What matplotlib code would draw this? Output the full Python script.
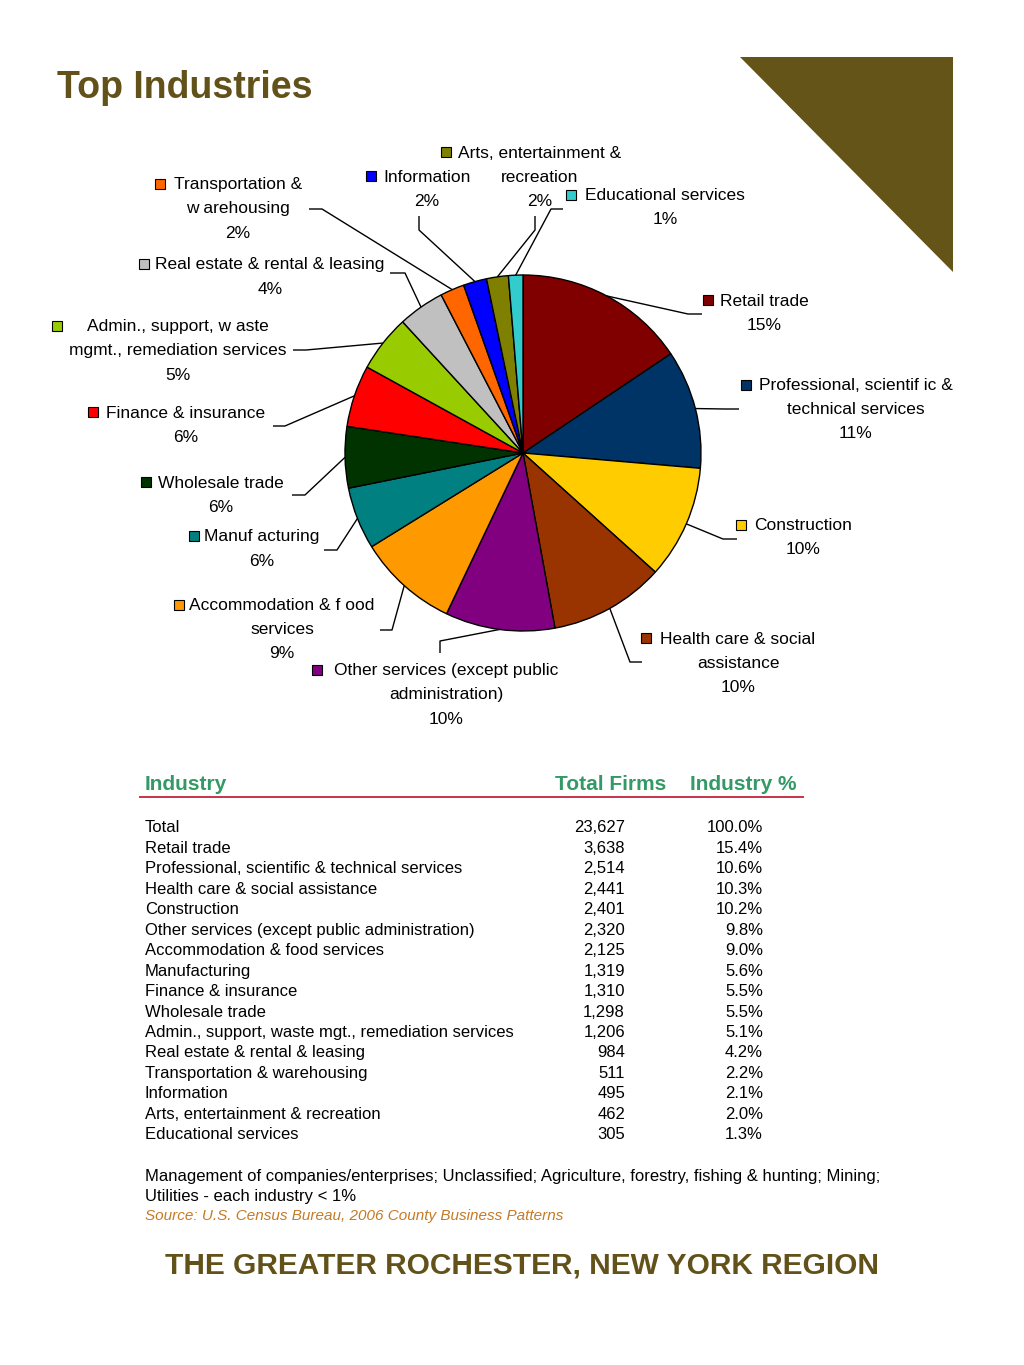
import matplotlib
matplotlib.use("Agg")
import matplotlib.pyplot as plt
from matplotlib.patches import Rectangle, Polygon
import numpy as np

plt.rcParams['font.family'] = ['Liberation Sans', 'DejaVu Sans']

W, H = 1024, 1365

# ---------------- data ----------------
pie_names = [
    ["Retail trade"],
    ["Professional, scientif ic &", "technical services"],
    ["Construction"],
    ["Health care & social", "assistance"],
    ["Other services (except public", "administration)"],
    ["Accommodation & f ood", "services"],
    ["Manuf acturing"],
    ["Wholesale trade"],
    ["Finance & insurance"],
    ["Admin., support, w aste", "mgmt., remediation services"],
    ["Real estate & rental & leasing"],
    ["Transportation &", "w arehousing"],
    ["Information"],
    ["Arts, entertainment &", "recreation"],
    ["Educational services"],
]
pie_firms = [3638, 2514, 2401, 2441, 2320, 2125, 1319, 1298, 1310, 1206, 984, 511, 495, 462, 305]
pie_pct = ["15%", "11%", "10%", "10%", "10%", "9%", "6%", "6%", "6%", "5%", "4%", "2%", "2%", "2%", "1%"]
pie_colors = ["#800000", "#003366", "#FFCC00", "#993300", "#800080", "#FF9900", "#008080",
              "#003300", "#FF0000", "#99CC00", "#C0C0C0", "#FF6600", "#0000FF", "#808000", "#33CCCC"]

table_industries = ["Total", "Retail trade", "Professional, scientific & technical services",
                    "Health care & social assistance", "Construction",
                    "Other services (except public administration)", "Accommodation & food services",
                    "Manufacturing", "Finance & insurance", "Wholesale trade",
                    "Admin., support, waste mgt., remediation services", "Real estate & rental & leasing",
                    "Transportation & warehousing", "Information", "Arts, entertainment & recreation",
                    "Educational services"]
table_firms = ["23,627", "3,638", "2,514", "2,441", "2,401", "2,320", "2,125", "1,319", "1,310",
               "1,298", "1,206", "984", "511", "495", "462", "305"]
table_pct = ["100.0%", "15.4%", "10.6%", "10.3%", "10.2%", "9.8%", "9.0%", "5.6%", "5.5%",
             "5.5%", "5.1%", "4.2%", "2.2%", "2.1%", "2.0%", "1.3%"]

# ---------------- layout ----------------
def Y(py):
    return H - py

fig = plt.figure(figsize=(W / 100, H / 100), dpi=100)
ax = fig.add_axes([0, 0, 1, 1])

CX, CY, R = 523, 453, 178
ax.pie(pie_firms, colors=pie_colors, startangle=90, counterclock=False,
       center=(CX, Y(CY)), radius=R,
       wedgeprops=dict(edgecolor="black", linewidth=1.0))
ax.set_xlim(0, W)
ax.set_ylim(0, H)
ax.set_aspect('equal')
ax.axis('off')

brown = "#62521A"
# title and corner triangle
ax.text(57, Y(88), "Top Industries", fontsize=27, fontweight="bold", color=brown,
        ha="left", va="center")
ax.add_patch(Polygon([(740, Y(57)), (953, Y(57)), (953, Y(272))], closed=True,
                     facecolor="#645418", edgecolor="none"))

# label layout: (text center x, first line y, marker x, elbow, end)
label_layout = [
    (764, 301, 708, (688, 314), (702, 314)),
    (856, 386, 746, (725, 409), (739, 409)),
    (803, 526, 741, (723, 539), (737, 539)),
    (738, 639, 646, (630, 662), (642, 662)),
    (446, 671, 317, (440, 641), (440, 653)),
    (282, 606, 179, (392, 630), (380, 630)),
    (262, 537, 194, (337, 550), (324, 550)),
    (221, 483, 146, (305, 495), (292, 495)),
    (186, 413, 93, (285, 426), (273, 426)),
    (178, 327, 57, (306, 350), (293, 350)),
    (270, 265, 144, (405, 273), (390, 273)),
    (238, 185, 160, (322, 209), (309, 209)),
    (427, 177, 371, (419, 230), (419, 216)),
    (540, 153, 446, (535, 230), (535, 216)),
    (665, 196, 571, (551, 209), (563, 209)),
]

total = float(sum(pie_firms))
cum = np.cumsum([0] + pie_firms[:-1])
LS = 24
for i, (cx, y0, mx, elbow, end) in enumerate(label_layout):
    frac = (cum[i] + pie_firms[i] / 2.0) / total
    ang = np.deg2rad(90 - 360 * frac)
    ex, ey = CX + R * np.cos(ang), Y(CY) + R * np.sin(ang)
    ax.plot([ex, elbow[0], end[0]], [ey, Y(elbow[1]), Y(end[1])], color="black",
            lw=1.0, solid_capstyle="butt", zorder=3)
    lines = pie_names[i] + [pie_pct[i]]
    for j, t in enumerate(lines):
        ax.text(cx, Y(y0 + j * LS), t, fontsize=12.5, ha="center", va="center", color="black")
    ax.add_patch(Rectangle((mx - 5, Y(y0 - 1) - 5), 10, 10, facecolor=pie_colors[i],
                           edgecolor="black", linewidth=0.8, zorder=4))

# ---------------- table ----------------
green = "#339966"
ax.text(145, Y(785), "Industry", fontsize=15, fontweight="bold", color=green, ha="left", va="center")
ax.text(666, Y(785), "Total Firms", fontsize=15, fontweight="bold", color=green, ha="right", va="center")
ax.text(797, Y(785), "Industry %", fontsize=15, fontweight="bold", color=green, ha="right", va="center")
ax.plot([140, 803], [Y(796.5), Y(796.5)], color="#C8324B", lw=1.4)

row0, dy = 828, 20.45
for k in range(len(table_industries)):
    yy = Y(row0 + k * dy)
    ax.text(145, yy, table_industries[k], fontsize=12, ha="left", va="center", color="black")
    ax.text(625, yy, table_firms[k], fontsize=12, ha="right", va="center", color="black")
    ax.text(763, yy, table_pct[k], fontsize=12, ha="right", va="center", color="black")

ax.text(145, Y(1176), "Management of companies/enterprises; Unclassified; Agriculture, forestry, fishing & hunting; Mining;",
        fontsize=12, ha="left", va="center", color="black")
ax.text(145, Y(1197), "Utilities - each industry < 1%", fontsize=12, ha="left", va="center", color="black")
ax.text(145, Y(1216), "Source: U.S. Census Bureau, 2006 County Business Patterns", fontsize=11,
        style="italic", ha="left", va="center", color="#C47A26")

ax.text(522, Y(1265), "THE GREATER ROCHESTER, NEW YORK REGION", fontsize=21.5, fontweight="bold",
        color=brown, ha="center", va="center")

fig.savefig("out.png", dpi=100, facecolor="white")
